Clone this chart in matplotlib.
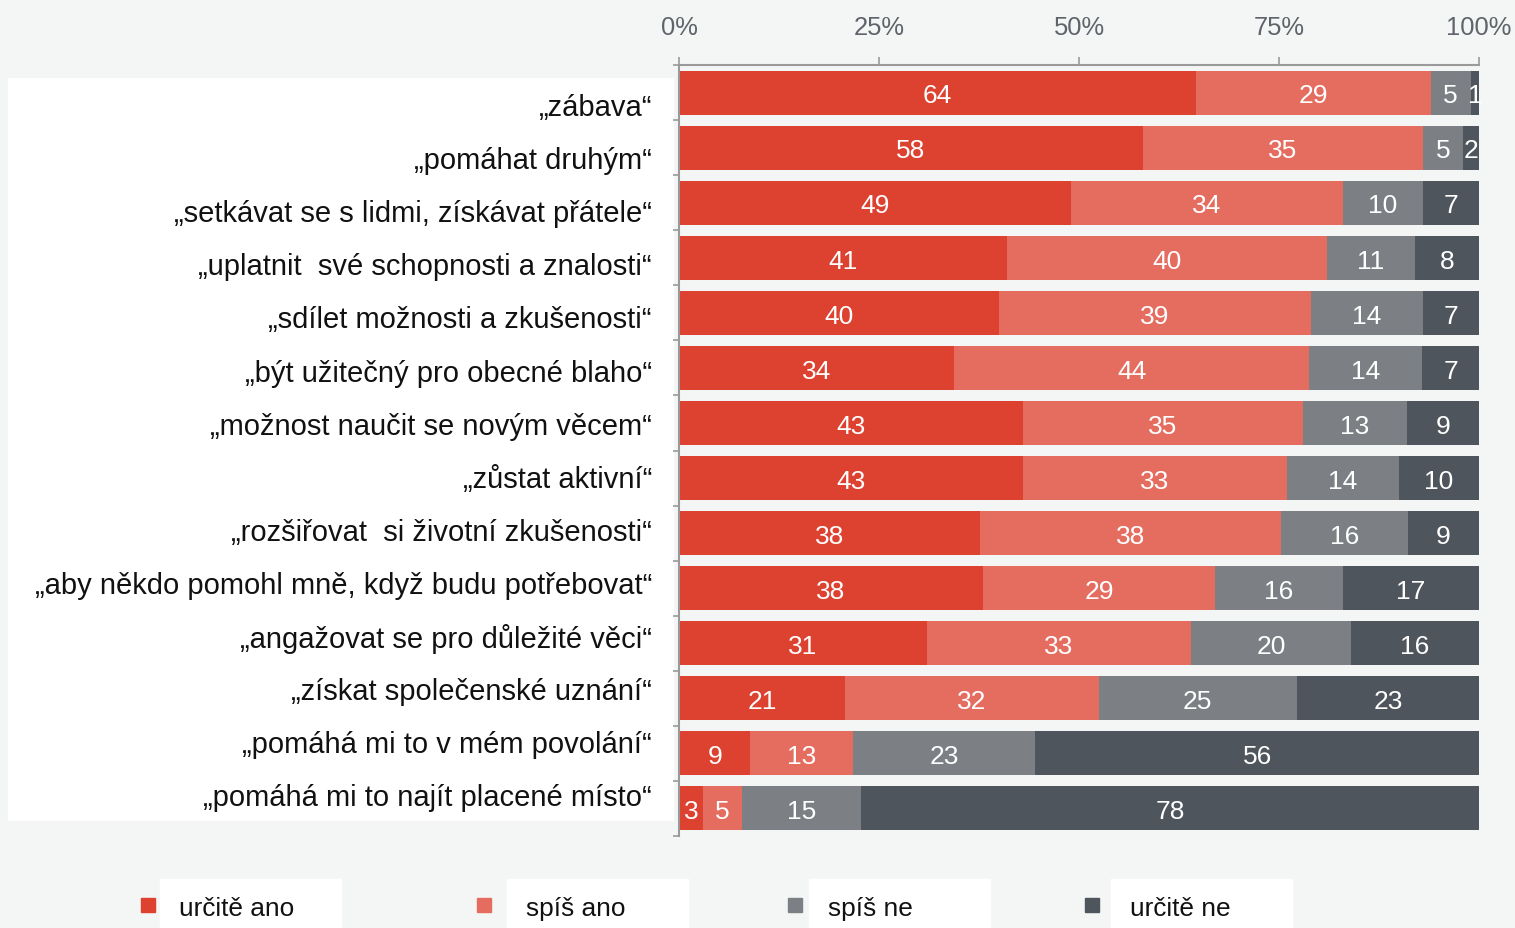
import numpy as np
import matplotlib
matplotlib.use('Agg')
import matplotlib.pyplot as plt
from matplotlib.patches import Rectangle

# data
categories = [
    '„zábava“',
    '„pomáhat druhým“',
    '„setkávat se s lidmi, získávat přátele“',
    '„uplatnit  své schopnosti a znalosti“',
    '„sdílet možnosti a zkušenosti“',
    '„být užitečný pro obecné blaho“',
    '„možnost naučit se novým věcem“',
    '„zůstat aktivní“',
    '„rozšiřovat  si životní zkušenosti“',
    '„aby někdo pomohl mně, když budu potřebovat“',
    '„angažovat se pro důležité věci“',
    '„získat společenské uznání“',
    '„pomáhá mi to v mém povolání“',
    '„pomáhá mi to najít placené místo“',
]
series_names = ['určitě ano', 'spíš ano', 'spíš ne', 'určitě ne']
urcite_ano = [64, 58, 49, 41, 40, 34, 43, 43, 38, 38, 31, 21, 9, 3]
spis_ano = [29, 35, 34, 40, 39, 44, 35, 33, 38, 29, 33, 32, 13, 5]
spis_ne = [5, 5, 10, 11, 14, 14, 13, 14, 16, 16, 20, 25, 23, 15]
urcite_ne = [1, 2, 7, 8, 7, 7, 9, 10, 9, 17, 16, 23, 56, 78]
x_ticks = [0, 25, 50, 75, 100]

colors = ['#DD4130', '#E56D60', '#7C7F83', '#4F555C']
bg = '#F4F6F5'

plt.rcParams['font.family'] = ['Liberation Sans', 'DejaVu Sans']

W, H = 1515, 929
fig = plt.figure(figsize=(W / 100, H / 100), dpi=100, facecolor=bg)


def box(x0, y0, x1, y1):
    # pixel box (top-left origin) -> figure fraction rect
    return [x0 / W, 1 - y1 / H, (x1 - x0) / W, (y1 - y0) / H]


n = len(categories)

# white panel with the category labels
lab_ax = fig.add_axes(box(8, 79, 674, 822))
lab_ax.set_facecolor('white')
for s in lab_ax.spines.values():
    s.set_visible(False)
lab_ax.set_xticks([])
lab_ax.set_yticks([])
lab_ax.set_xlim(0, 666)
lab_ax.set_ylim(n, 0)
for i, c in enumerate(categories):
    lab_ax.text(644, i + 0.55, c, ha='right', va='center', fontsize=21, color='#111111')

# stacked bars, normalised to 100 %
ax = fig.add_axes(box(679, 66, 1479, 837))
ax.set_facecolor(bg)
values = np.array([urcite_ano, spis_ano, spis_ne, urcite_ne], dtype=float)
shares = values / values.sum(axis=0) * 100
y = np.arange(n)
left = np.zeros(n)
for k in range(4):
    bars = ax.barh(y, shares[k], left=left, height=0.8, color=colors[k], label=series_names[k])
    anns = ax.bar_label(bars, labels=[str(int(v)) for v in values[k]], label_type='center',
                        color='white', fontsize=19)
    for a in anns:
        a.xyann = (0, -2)
    left += shares[k]

ax.set_xlim(0, 100)
ax.set_ylim(n - 0.5, -0.5)
ax.xaxis.tick_top()
ax.set_xticks(x_ticks)
ax.set_xticklabels([f'{t}%' for t in x_ticks])
ax.tick_params(axis='x', length=6, width=1.2, color='#9A9A9A', pad=13,
               labelsize=18.4, labelcolor='#5F646A')
ax.set_yticks([])
ax.set_yticks(np.arange(-0.5, n), minor=True)
ax.tick_params(axis='y', which='minor', length=4, width=1.2, color='#9A9A9A')
for side in ['right', 'bottom']:
    ax.spines[side].set_visible(False)
for side in ['top', 'left']:
    ax.spines[side].set_color('#9A9A9A')
    ax.spines[side].set_linewidth(1.5)

# legend: coloured squares with white boxes behind the text
sq_x = [141, 477, 788, 1085]
box_x = [160, 507, 809, 1111]
for k in range(4):
    fig.add_artist(Rectangle((sq_x[k] / W, 1 - 913 / H), 14 / W, 14 / H,
                             transform=fig.transFigure, color=colors[k]))
    fig.add_artist(Rectangle((box_x[k] / W, 0), 181 / W, 1 - 880 / H,
                             transform=fig.transFigure, color='white'))
    fig.text((box_x[k] + 19) / W, 1 - 909 / H, series_names[k], ha='left', va='center',
             fontsize=18.9, color='#111111')

fig.savefig('out.png', dpi=100, facecolor=fig.get_facecolor())
